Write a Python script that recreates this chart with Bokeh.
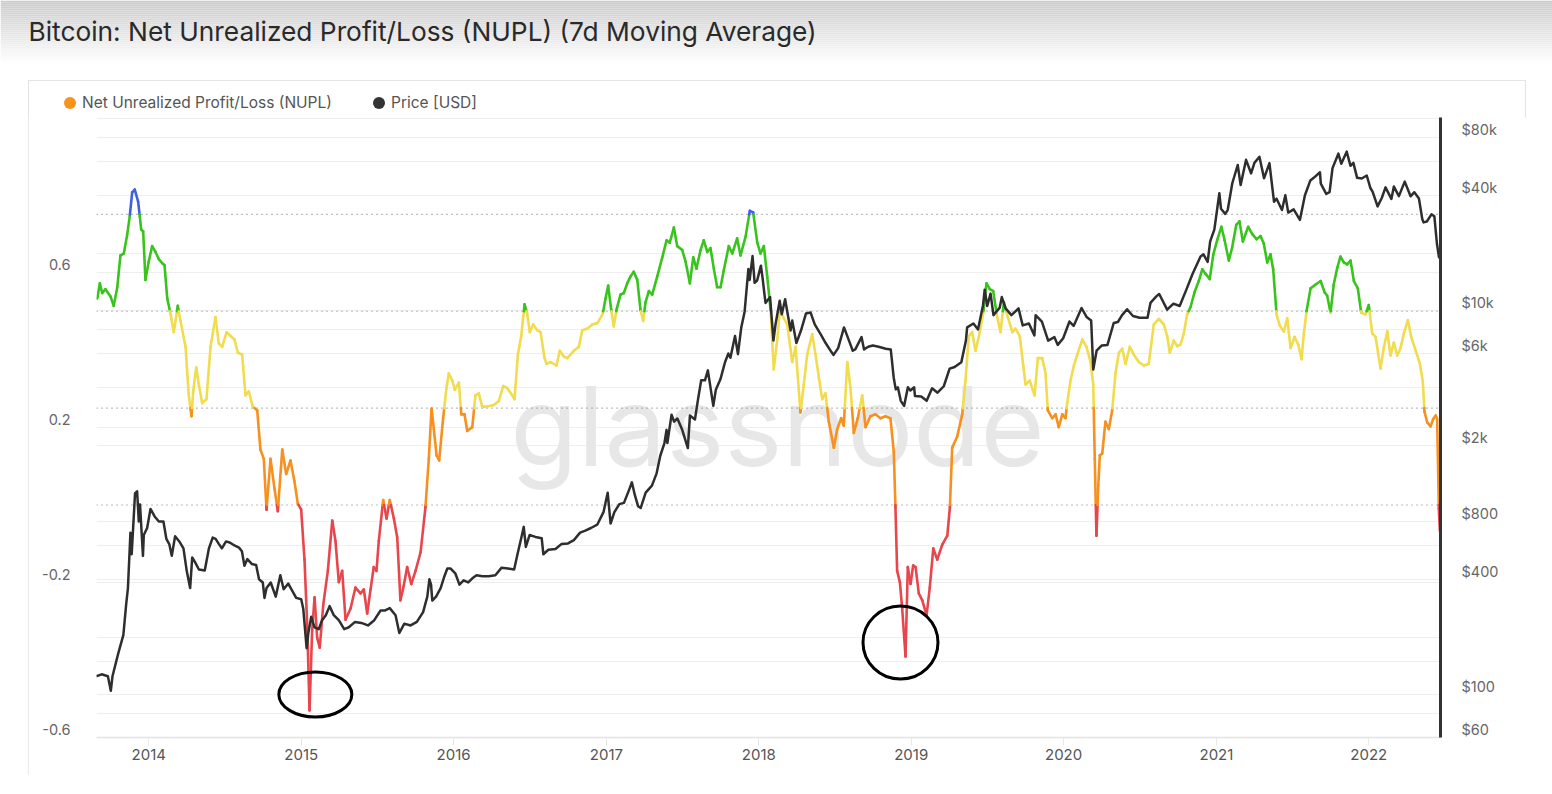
import bisect
import pandas as pd
from bokeh.plotting import figure
from bokeh.models import (Range1d, LinearAxis, LogAxis, LogScale, FixedTicker, Grid, Span,
                          Label, ColumnDataSource, DatetimeTickFormatter, Spacer, Div)
from bokeh.layouts import column, row
from bokeh.embed import file_html
from bokeh.resources import INLINE
from bokeh.core.properties import field

TITLE = "Bitcoin: Net Unrealized Profit/Loss (NUPL) (7d Moving Average)"
LEGEND_LABELS = ["Net Unrealized Profit/Loss (NUPL)", "Price [USD]"]
LEGEND_COLORS = ["#f7931a", "#333333"]

# ---- NUPL (7d MA): time as decimal year, value ----
nupl_t = [2013.662, 2013.679, 2013.694, 2013.716, 2013.749, 2013.770, 2013.793, 2013.814, 2013.836, 2013.858,
          2013.875, 2013.891, 2013.908, 2013.930, 2013.941, 2013.950, 2013.963, 2013.978, 2014.000, 2014.022,
          2014.044, 2014.066, 2014.088, 2014.103, 2014.121, 2014.142, 2014.164, 2014.190, 2014.208, 2014.241,
          2014.262, 2014.280, 2014.291, 2014.311, 2014.328, 2014.350, 2014.378, 2014.405, 2014.437, 2014.459,
          2014.481, 2014.510, 2014.536, 2014.562, 2014.584, 2014.612, 2014.634, 2014.656, 2014.682, 2014.711,
          2014.732, 2014.754, 2014.772, 2014.798, 2014.824, 2014.846, 2014.875, 2014.901, 2014.929, 2014.955,
          2014.977, 2014.999, 2015.021, 2015.039, 2015.054, 2015.071, 2015.087, 2015.104, 2015.121, 2015.144,
          2015.174, 2015.203, 2015.224, 2015.246, 2015.268, 2015.290, 2015.323, 2015.355, 2015.388, 2015.410,
          2015.432, 2015.454, 2015.475, 2015.493, 2015.508, 2015.537, 2015.559, 2015.580, 2015.607, 2015.629,
          2015.650, 2015.672, 2015.694, 2015.721, 2015.749, 2015.782, 2015.814, 2015.836, 2015.854, 2015.869,
          2015.887, 2015.904, 2015.930, 2015.952, 2015.967, 2015.990, 2016.007, 2016.033, 2016.049, 2016.070,
          2016.088, 2016.121, 2016.142, 2016.164, 2016.186, 2016.219, 2016.262, 2016.295, 2016.324, 2016.350,
          2016.383, 2016.398, 2016.420, 2016.442, 2016.464, 2016.481, 2016.498, 2016.521, 2016.547, 2016.569,
          2016.595, 2016.608, 2016.634, 2016.673, 2016.695, 2016.721, 2016.744, 2016.787, 2016.820, 2016.842,
          2016.875, 2016.908, 2016.944, 2016.977, 2016.995, 2017.012, 2017.032, 2017.049, 2017.067, 2017.093,
          2017.115, 2017.137, 2017.159, 2017.180, 2017.203, 2017.224, 2017.242, 2017.257, 2017.279, 2017.301,
          2017.334, 2017.367, 2017.395, 2017.416, 2017.443, 2017.465, 2017.498, 2017.519, 2017.548, 2017.570,
          2017.591, 2017.618, 2017.639, 2017.662, 2017.683, 2017.705, 2017.727, 2017.749, 2017.770, 2017.803,
          2017.826, 2017.858, 2017.880, 2017.913, 2017.941, 2017.963, 2017.990, 2018.011, 2018.033, 2018.055,
          2018.077, 2018.098, 2018.121, 2018.138, 2018.160, 2018.186, 2018.219, 2018.241, 2018.273, 2018.295,
          2018.317, 2018.350, 2018.372, 2018.393, 2018.416, 2018.437, 2018.459, 2018.492, 2018.514, 2018.540,
          2018.557, 2018.580, 2018.601, 2018.623, 2018.649, 2018.678, 2018.700, 2018.732, 2018.765, 2018.798,
          2018.830, 2018.863, 2018.885, 2018.896, 2018.907, 2018.925, 2018.940, 2018.962, 2018.977, 2018.995,
          2019.012, 2019.028, 2019.049, 2019.072, 2019.100, 2019.121, 2019.144, 2019.170, 2019.203, 2019.236,
          2019.253, 2019.268, 2019.301, 2019.334, 2019.355, 2019.377, 2019.399, 2019.421, 2019.449, 2019.471,
          2019.493, 2019.515, 2019.537, 2019.563, 2019.585, 2019.607, 2019.633, 2019.662, 2019.683, 2019.711,
          2019.734, 2019.749, 2019.777, 2019.808, 2019.830, 2019.858, 2019.880, 2019.895, 2019.924, 2019.946,
          2019.967, 2019.990, 2020.011, 2020.022, 2020.044, 2020.066, 2020.088, 2020.121, 2020.149, 2020.175,
          2020.193, 2020.203, 2020.214, 2020.226, 2020.236, 2020.252, 2020.273, 2020.295, 2020.317, 2020.339,
          2020.361, 2020.383, 2020.405, 2020.433, 2020.459, 2020.492, 2020.525, 2020.557, 2020.590, 2020.623,
          2020.656, 2020.678, 2020.695, 2020.721, 2020.744, 2020.765, 2020.787, 2020.809, 2020.831, 2020.857,
          2020.885, 2020.908, 2020.929, 2020.957, 2020.980, 2021.006, 2021.033, 2021.054, 2021.082, 2021.104,
          2021.131, 2021.152, 2021.174, 2021.209, 2021.236, 2021.264, 2021.290, 2021.311, 2021.334, 2021.355,
          2021.373, 2021.395, 2021.416, 2021.443, 2021.465, 2021.487, 2021.513, 2021.537, 2021.559, 2021.574,
          2021.592, 2021.618, 2021.651, 2021.684, 2021.710, 2021.727, 2021.749, 2021.770, 2021.793, 2021.814,
          2021.836, 2021.858, 2021.880, 2021.902, 2021.928, 2021.950, 2021.978, 2022.000, 2022.022, 2022.044,
          2022.077, 2022.098, 2022.121, 2022.142, 2022.164, 2022.186, 2022.208, 2022.230, 2022.256, 2022.278,
          2022.306, 2022.334, 2022.354, 2022.365, 2022.383, 2022.405, 2022.422, 2022.439, 2022.448, 2022.459,
          2022.466]
nupl_v = [0.533, 0.572, 0.547, 0.557, 0.538, 0.514, 0.561, 0.644, 0.649, 0.697,
          0.745, 0.807, 0.814, 0.783, 0.745, 0.711, 0.706, 0.581, 0.629, 0.668,
          0.653, 0.634, 0.624, 0.619, 0.533, 0.494, 0.446, 0.514, 0.475, 0.408,
          0.283, 0.229, 0.293, 0.355, 0.311, 0.263, 0.273, 0.408, 0.485, 0.417,
          0.408, 0.446, 0.436, 0.427, 0.393, 0.388, 0.283, 0.293, 0.254, 0.244,
          0.143, 0.119, -0.012, 0.119, 0.043, -0.016, 0.143, 0.080, 0.115, 0.061,
          0.004, -0.012, -0.141, -0.314, -0.530, -0.324, -0.238, -0.343, -0.368, -0.257,
          -0.170, -0.040, -0.093, -0.199, -0.170, -0.296, -0.267, -0.213, -0.228, -0.218,
          -0.280, -0.218, -0.160, -0.170, -0.093, 0.013, -0.035, 0.013, -0.035, -0.084,
          -0.246, -0.208, -0.160, -0.204, -0.170, -0.122, -0.006, 0.119, 0.249, 0.196,
          0.128, 0.115, 0.224, 0.302, 0.340, 0.321, 0.297, 0.316, 0.234, 0.234,
          0.191, 0.201, 0.283, 0.288, 0.254, 0.254, 0.258, 0.268, 0.307, 0.302,
          0.283, 0.273, 0.388, 0.436, 0.518, 0.494, 0.446, 0.466, 0.451, 0.446,
          0.379, 0.364, 0.369, 0.360, 0.398, 0.383, 0.379, 0.398, 0.408, 0.451,
          0.455, 0.466, 0.470, 0.494, 0.533, 0.566, 0.504, 0.461, 0.504, 0.543,
          0.547, 0.572, 0.590, 0.602, 0.581, 0.504, 0.475, 0.523, 0.552, 0.543,
          0.590, 0.639, 0.683, 0.677, 0.716, 0.668, 0.658, 0.629, 0.572, 0.639,
          0.610, 0.658, 0.683, 0.653, 0.663, 0.610, 0.562, 0.562, 0.605, 0.668,
          0.649, 0.688, 0.644, 0.692, 0.759, 0.755, 0.677, 0.649, 0.668, 0.590,
          0.504, 0.350, 0.427, 0.504, 0.485, 0.466, 0.369, 0.408, 0.239, 0.311,
          0.388, 0.441, 0.388, 0.331, 0.273, 0.288, 0.215, 0.148, 0.196, 0.224,
          0.205, 0.369, 0.302, 0.186, 0.224, 0.283, 0.201, 0.229, 0.234, 0.224,
          0.229, 0.224, 0.138, -0.006, -0.170, -0.199, -0.267, -0.391, -0.160, -0.204,
          -0.156, -0.160, -0.228, -0.246, -0.285, -0.213, -0.112, -0.141, -0.102, -0.079,
          -0.006, 0.148, 0.177, 0.234, 0.321, 0.436, 0.446, 0.398, 0.446, 0.494,
          0.572, 0.557, 0.552, 0.485, 0.446, 0.523, 0.485, 0.446, 0.455, 0.436,
          0.360, 0.311, 0.321, 0.283, 0.379, 0.379, 0.340, 0.244, 0.224, 0.234,
          0.201, 0.234, 0.224, 0.263, 0.321, 0.360, 0.388, 0.427, 0.408, 0.369,
          0.311, 0.119, -0.079, 0.051, 0.128, 0.133, 0.215, 0.196, 0.244, 0.340,
          0.393, 0.403, 0.364, 0.408, 0.388, 0.369, 0.360, 0.364, 0.466, 0.480,
          0.466, 0.436, 0.393, 0.424, 0.410, 0.414, 0.443, 0.492, 0.511, 0.549,
          0.578, 0.608, 0.597, 0.583, 0.646, 0.684, 0.718, 0.684, 0.631, 0.665,
          0.723, 0.732, 0.680, 0.718, 0.699, 0.686, 0.694, 0.675, 0.626, 0.647,
          0.608, 0.492, 0.463, 0.448, 0.482, 0.405, 0.434, 0.414, 0.376, 0.443,
          0.501, 0.559, 0.569, 0.578, 0.549, 0.540, 0.496, 0.569, 0.612, 0.641,
          0.626, 0.621, 0.631, 0.578, 0.559, 0.496, 0.492, 0.516, 0.443, 0.434,
          0.352, 0.405, 0.448, 0.386, 0.419, 0.386, 0.405, 0.443, 0.477, 0.434,
          0.400, 0.366, 0.319, 0.241, 0.213, 0.203, 0.222, 0.231, 0.222, -0.009,
          -0.067]

# ---- BTC price (USD) ----
price_dates = ["2013-08-28", "2013-09-10", "2013-09-25", "2013-10-02", "2013-10-06", "2013-10-20", "2013-11-01",
    "2013-11-08", "2013-11-12", "2013-11-18", "2013-11-21", "2013-11-29", "2013-12-04", "2013-12-08", "2013-12-11",
    "2013-12-18", "2013-12-20", "2013-12-28", "2014-01-05", "2014-01-15", "2014-01-25", "2014-02-05", "2014-02-12",
    "2014-02-19", "2014-02-25", "2014-03-05", "2014-03-15", "2014-03-25", "2014-04-02", "2014-04-10", "2014-04-15",
    "2014-04-22", "2014-05-01", "2014-05-15", "2014-05-25", "2014-06-03", "2014-06-10", "2014-06-18", "2014-06-25",
    "2014-07-05", "2014-07-15", "2014-07-25", "2014-08-05", "2014-08-12", "2014-08-18", "2014-08-25", "2014-09-05",
    "2014-09-15", "2014-09-22", "2014-10-01", "2014-10-05", "2014-10-10", "2014-10-20", "2014-11-01", "2014-11-12",
    "2014-11-20", "2014-12-01", "2014-12-10", "2014-12-20", "2015-01-01", "2015-01-06", "2015-01-14", "2015-01-18",
    "2015-01-25", "2015-02-02", "2015-02-12", "2015-02-20", "2015-03-01", "2015-03-10", "2015-03-20", "2015-04-01",
    "2015-04-14", "2015-04-25", "2015-05-10", "2015-05-25", "2015-06-10", "2015-06-25", "2015-07-10", "2015-07-20",
    "2015-08-01", "2015-08-15", "2015-08-24", "2015-09-05", "2015-09-20", "2015-10-05", "2015-10-20", "2015-10-30",
    "2015-11-04", "2015-11-08", "2015-11-11", "2015-11-20", "2015-12-01", "2015-12-10", "2015-12-17", "2015-12-25",
    "2016-01-05", "2016-01-15", "2016-01-25", "2016-02-05", "2016-02-15", "2016-02-25", "2016-03-10", "2016-03-25",
    "2016-04-10", "2016-04-25", "2016-05-10", "2016-05-25", "2016-06-02", "2016-06-12", "2016-06-17", "2016-06-22",
    "2016-07-01", "2016-07-15", "2016-07-30", "2016-08-03", "2016-08-15", "2016-09-01", "2016-09-15", "2016-10-01",
    "2016-10-15", "2016-10-30", "2016-11-10", "2016-11-25", "2016-12-10", "2016-12-25", "2017-01-04", "2017-01-11",
    "2017-01-20", "2017-02-01", "2017-02-12", "2017-02-25", "2017-03-03", "2017-03-10", "2017-03-18", "2017-03-24",
    "2017-04-05", "2017-04-20", "2017-05-01", "2017-05-10", "2017-05-20", "2017-05-25", "2017-05-27", "2017-06-06",
    "2017-06-12", "2017-06-20", "2017-07-01", "2017-07-15", "2017-07-20", "2017-08-01", "2017-08-08", "2017-08-16",
    "2017-08-25", "2017-09-01", "2017-09-14", "2017-09-20", "2017-10-01", "2017-10-12", "2017-10-20", "2017-10-25",
    "2017-11-05", "2017-11-12", "2017-11-20", "2017-11-28", "2017-12-07", "2017-12-10", "2017-12-17", "2017-12-22",
    "2017-12-28", "2018-01-06", "2018-01-10", "2018-01-17", "2018-01-28", "2018-02-05", "2018-02-10", "2018-02-20",
    "2018-02-25", "2018-03-05", "2018-03-18", "2018-03-22", "2018-04-01", "2018-04-12", "2018-04-24", "2018-05-05",
    "2018-05-15", "2018-05-30", "2018-06-10", "2018-06-24", "2018-06-29", "2018-07-10", "2018-07-24", "2018-08-05",
    "2018-08-14", "2018-08-20", "2018-09-04", "2018-09-10", "2018-09-20", "2018-10-01", "2018-10-15", "2018-11-01",
    "2018-11-13", "2018-11-20", "2018-11-25", "2018-11-30", "2018-12-07", "2018-12-15", "2018-12-24", "2018-12-30",
    "2019-01-08", "2019-01-10", "2019-01-25", "2019-02-07", "2019-02-20", "2019-03-05", "2019-03-20", "2019-04-03",
    "2019-04-15", "2019-05-01", "2019-05-12", "2019-05-15", "2019-05-30", "2019-06-10", "2019-06-22", "2019-06-26",
    "2019-07-02", "2019-07-10", "2019-07-17", "2019-08-01", "2019-08-06", "2019-08-15", "2019-08-29", "2019-09-15",
    "2019-09-25", "2019-10-10", "2019-10-23", "2019-10-26", "2019-11-10", "2019-11-25", "2019-12-10", "2019-12-18",
    "2019-12-31", "2020-01-15", "2020-01-25", "2020-02-13", "2020-02-25", "2020-03-07", "2020-03-12", "2020-03-20",
    "2020-04-01", "2020-04-15", "2020-04-30", "2020-05-10", "2020-05-20", "2020-06-01", "2020-06-15", "2020-07-01",
    "2020-07-20", "2020-07-27", "2020-08-10", "2020-08-17", "2020-09-05", "2020-09-20", "2020-10-05", "2020-10-21",
    "2020-11-05", "2020-11-24", "2020-12-01", "2020-12-11", "2020-12-17", "2020-12-27", "2021-01-08", "2021-01-12",
    "2021-01-22", "2021-01-28", "2021-02-08", "2021-02-21", "2021-02-28", "2021-03-13", "2021-03-25", "2021-04-02",
    "2021-04-14", "2021-04-25", "2021-05-08", "2021-05-12", "2021-05-19", "2021-05-25", "2021-06-07", "2021-06-15",
    "2021-06-22", "2021-07-05", "2021-07-20", "2021-08-01", "2021-08-14", "2021-08-22", "2021-09-06", "2021-09-08",
    "2021-09-21", "2021-09-29", "2021-10-06", "2021-10-20", "2021-10-27", "2021-11-09", "2021-11-18", "2021-11-25",
    "2021-12-04", "2021-12-15", "2021-12-27", "2022-01-05", "2022-01-10", "2022-01-22", "2022-02-01", "2022-02-10",
    "2022-02-24", "2022-03-02", "2022-03-14", "2022-03-28", "2022-04-11", "2022-04-20", "2022-05-01", "2022-05-09",
    "2022-05-12", "2022-05-20", "2022-05-31", "2022-06-07", "2022-06-13", "2022-06-18", "2022-06-21"]
price_usd = [125, 128, 125, 105, 125, 165, 205,
    300, 360, 700, 540, 1120, 1150, 800, 980,
    530, 680, 740, 930, 850, 800, 800, 650,
    610, 530, 670, 630, 580, 440, 360, 520,
    490, 450, 445, 580, 660, 650, 610, 580,
    630, 620, 600, 585, 560, 470, 510, 480,
    475, 400, 385, 320, 360, 385, 325, 420,
    355, 380, 350, 320, 315, 280, 175, 210,
    255, 225, 220, 245, 260, 290, 260, 245,
    220, 225, 240, 237, 230, 245, 275, 275,
    283, 260, 210, 235, 230, 240, 270, 325,
    400, 375, 310, 325, 360, 415, 455, 455,
    430, 375, 395, 385, 405, 420, 415, 415,
    420, 460, 455, 450, 540, 670, 750, 590,
    680, 665, 655, 540, 570, 575, 610, 615,
    640, 700, 715, 740, 770, 895, 1130, 780,
    895, 985, 1000, 1180, 1280, 1100, 960, 940,
    1130, 1230, 1420, 1760, 2050, 2400, 2050, 2880,
    2650, 2750, 2420, 1930, 2850, 2720, 3420, 4350,
    4350, 4900, 3200, 3880, 4400, 5400, 6000, 5700,
    7400, 5950, 8200, 9900, 16500, 14500, 19300, 14000,
    14400, 17200, 14800, 11000, 11800, 7000, 8500, 11300,
    9600, 11500, 7900, 8900, 6800, 7900, 9700, 9800,
    8500, 7500, 6800, 6100, 5900, 6400, 8200, 7000,
    6200, 6300, 7300, 6300, 6500, 6600, 6500, 6350,
    6300, 4500, 3900, 4000, 3400, 3200, 4000, 3850,
    4000, 3600, 3580, 3400, 3950, 3750, 4050, 5000,
    5100, 5400, 7000, 8200, 8600, 8000, 10700, 12900,
    10600, 12300, 9500, 10400, 11800, 10300, 9500, 10300,
    8400, 8600, 7450, 9500, 8800, 7000, 7300, 6650,
    7200, 8800, 8350, 10350, 9300, 8900, 4950, 6200,
    6600, 6650, 8650, 8750, 9500, 10200, 9400, 9200,
    9200, 11000, 11900, 12250, 10150, 10900, 10600, 12900,
    15600, 19200, 19700, 18000, 23000, 26500, 41000, 34000,
    32000, 33500, 46200, 57500, 45200, 61200, 52000, 59000,
    63500, 49000, 58800, 49500, 37000, 38400, 33500, 40000,
    32500, 33800, 29800, 40000, 47800, 49300, 52700, 46000,
    40700, 41500, 55300, 65900, 58400, 67500, 57000, 59000,
    49300, 48900, 50700, 43500, 41800, 35000, 38700, 44000,
    38300, 44400, 39600, 47100, 39500, 41500, 38500, 30100,
    28900, 29200, 31800, 31100, 22500, 19000, 20700]

# ---- axes / levels ----
X_START, X_END = 2013.657, 2022.470          # decimal years
NUPL_MIN, NUPL_MAX = -0.6, 1.0
PRICE_MIN, PRICE_MAX = 60, 101650
zone_edges = [0.0, 0.25, 0.5, 0.75]
zone_colors = ["#e8464c", "#f7901e", "#f1dc4e", "#39c41d", "#3f60e0"]
left_ticks = [-0.6, -0.2, 0.2, 0.6]
left_labels = ["-0.6", "-0.2", "0.2", "0.6"]
right_ticks = [60, 100, 400, 800, 2000, 6000, 10000, 40000, 80000]
right_labels = ["$60", "$100", "$400", "$800", "$2k", "$6k", "$10k", "$40k", "$80k"]
price_grid = [60, 80, 100, 150, 200, 400, 600, 800, 2000, 4000, 6000, 8000,
              10000, 20000, 40000, 60000, 80000, 100000]
year_ticks = ["2014-01-01", "2015-01-01", "2016-01-01", "2017-01-01", "2018-01-01",
              "2019-01-01", "2020-01-01", "2021-01-01", "2022-01-01"]
# hand-drawn circles marking the two capitulation lows
circle_t = [2015.092, 2018.929]
circle_v = [-0.489, -0.355]
circle_w = [73, 75]
circle_h = [45, 73]

FONT = "Inter"
BASE = pd.Timestamp("2014-01-01")


def yr_to_ms(ts):
    return [(BASE + pd.Timedelta(days=(t - 2014.0) * 365.25)).value / 1e6 for t in ts]


def dates_to_ms(ds):
    return (pd.to_datetime(ds).astype("int64") / 1e6).tolist()


def zone_color(v):
    return zone_colors[bisect.bisect_right(zone_edges, v)]


# split NUPL into zone-coloured segments (split at threshold crossings)
nx = yr_to_ms(nupl_t)
sx0, sy0, sx1, sy1, scol = [], [], [], [], []
for i in range(len(nx) - 1):
    xa, ya, xb, yb = nx[i], nupl_v[i], nx[i + 1], nupl_v[i + 1]
    cuts = []
    for e in zone_edges:
        if (ya - e) * (yb - e) < 0:
            f = (e - ya) / (yb - ya)
            cuts.append((f, xa + f * (xb - xa), e))
    cuts.sort()
    pts = [(xa, ya)] + [(c[1], c[2]) for c in cuts] + [(xb, yb)]
    for (p0, p1) in zip(pts[:-1], pts[1:]):
        sx0.append(p0[0]); sy0.append(p0[1]); sx1.append(p1[0]); sy1.append(p1[1])
        scol.append(zone_color((p0[1] + p1[1]) / 2))
seg_src = ColumnDataSource(dict(x0=sx0, y0=sy0, x1=sx1, y1=sy1, seg_color=scol))

price_src = ColumnDataSource(dict(x=dates_to_ms(price_dates), y=price_usd))

# ---------------- header (gradient + title) ----------------
W = 1552
HH = 80
hdr = figure(width=W, height=HH, x_range=Range1d(0, W), y_range=Range1d(0, HH),
             x_axis_location=None, y_axis_location=None, toolbar_location=None,
             output_backend="svg", min_border=0, outline_line_color=None,
             background_fill_color="white", border_fill_color="white")
hdr.grid.visible = False
tops, bots, cols = [], [], []
for k in range(0, 64, 2):
    g = int(round(202 + 53 * min(k / 62.0, 1.0)))
    tops.append(HH - k); bots.append(HH - k - 2)
    cols.append("#%02x%02x%02x" % (g, g, g))
hdr.quad(left=0, right=W, top=tops, bottom=bots, fill_color=cols, line_color=None)
hdr.add_layout(Label(x=28, y=HH - 31, x_units="screen", y_units="screen", text=TITLE,
                     text_font=FONT, text_font_size="26.3px", text_color="#2a2a2a",
                     text_baseline="middle", text_align="left"))

PW = 1498
# ---------------- legend strip (HTML) ----------------
legend_html = (
    '<div style="position:relative;width:%dpx;height:37px;font-family:Inter,sans-serif;'
    'font-size:15.5px;color:#555555;">'
    '<span style="position:absolute;left:36px;top:17px;width:12px;height:12px;border-radius:50%%;background:%s;"></span>'
    '<span style="position:absolute;left:54px;top:13px;line-height:20px;white-space:nowrap;">%s</span>'
    '<span style="position:absolute;left:345px;top:17px;width:12px;height:12px;border-radius:50%%;background:%s;"></span>'
    '<span style="position:absolute;left:363px;top:13px;line-height:20px;white-space:nowrap;">%s</span>'
    '</div>' % (PW, LEGEND_COLORS[0], LEGEND_LABELS[0], LEGEND_COLORS[1], LEGEND_LABELS[1]))
leg = Div(text=legend_html, width=PW, height=37, margin=0)

# ---------------- main chart ----------------
p = figure(width=PW, height=658, x_axis_type="datetime",
           x_range=Range1d(yr_to_ms([X_START])[0], yr_to_ms([X_END])[0]),
           y_range=Range1d(NUPL_MIN, NUPL_MAX), y_axis_location=None,
           toolbar_location=None, output_backend="svg",
           min_border_left=68, min_border_right=86, min_border_top=0, min_border_bottom=38,
           outline_line_color=None, background_fill_color="white", border_fill_color="white")
p.grid.visible = False

lab_shift = 8 / 387.5
fac = 10 ** (8 / 192.0)
p.extra_y_ranges = {"price": Range1d(PRICE_MIN, PRICE_MAX),
                    "price_lab": Range1d(PRICE_MIN / fac, PRICE_MAX / fac),
                    "nupl_lab": Range1d(NUPL_MIN - lab_shift, NUPL_MAX - lab_shift)}
p.extra_y_scales = {"price": LogScale(), "price_lab": LogScale()}

p.add_layout(Grid(dimension=1, ticker=FixedTicker(ticks=left_ticks),
                  grid_line_color="#eeeeee", grid_line_width=1.2))
p.add_layout(Grid(dimension=1, ticker=FixedTicker(ticks=price_grid), y_range_name="price",
                  grid_line_color="#eeeeee", grid_line_width=1.2))

p.add_layout(Label(x=681, y=312, x_units="screen", y_units="screen", text="glassnode",
                   text_font=FONT, text_font_size="110px", text_color="#e7e7e7",
                   text_align="center", text_baseline="middle", level="underlay"))

for e in zone_edges:
    p.add_layout(Span(location=e, dimension="width", line_color="#7d7d7d",
                      line_dash="1 4", line_width=1.2, level="underlay"))

left_axis = LinearAxis(y_range_name="nupl_lab", ticker=FixedTicker(ticks=left_ticks),
                       axis_line_color=None, major_tick_line_color=None, minor_tick_line_color=None,
                       major_label_text_color="#666666", major_label_text_font_size="14.5px",
                       major_label_text_font=FONT, major_label_standoff=20,
                       major_label_overrides={float(v): s for v, s in zip(left_ticks, left_labels)})
p.add_layout(left_axis, "left")
right_axis = LogAxis(y_range_name="price_lab", ticker=FixedTicker(ticks=right_ticks),
                     axis_line_color="#333333", axis_line_width=3,
                     major_tick_line_color=None, minor_tick_line_color=None,
                     major_label_text_color="#666666", major_label_text_font_size="14.5px",
                     major_label_text_font=FONT, major_label_standoff=15,
                     major_label_overrides={float(v): s for v, s in zip(right_ticks, right_labels)})
p.add_layout(right_axis, "right")

xa = p.xaxis[0]
xa.ticker = FixedTicker(ticks=dates_to_ms(year_ticks))
xa.formatter = DatetimeTickFormatter(years="%Y", months="%Y", days="%Y", hours="%Y",
                                     hourmin="%Y", minutes="%Y", minsec="%Y", seconds="%Y",
                                     milliseconds="%Y", microseconds="%Y")
xa.axis_line_color = "#e3e3e3"
xa.axis_line_width = 1.5
xa.major_tick_line_color = "#e8e8e8"
xa.major_tick_out = 8
xa.major_tick_in = 0
xa.minor_tick_line_color = None
xa.major_label_text_color = "#555555"
xa.major_label_text_font_size = "15px"
xa.major_label_text_font = FONT
xa.major_label_standoff = 3

p.segment(x0="x0", y0="y0", x1="x1", y1="y1", line_color=field("seg_color"),
          line_width=2.6, line_cap="round", source=seg_src)
p.line(x="x", y="y", source=price_src, y_range_name="price", line_color="#2e2e2e",
       line_width=2.5, line_join="round")

p.ellipse(x=yr_to_ms(circle_t), y=circle_v, width=circle_w, height=circle_h,
          width_units="screen", height_units="screen", fill_color=None,
          line_color="black", line_width=3)

panel = column(leg, p)
panel.styles = {"outline": "1px solid #e4e4e4", "outline-offset": "-1px"}

layout = column(hdr, row(Spacer(width=28, height=695), panel))
open("out.html", "w").write(file_html(layout, INLINE))
